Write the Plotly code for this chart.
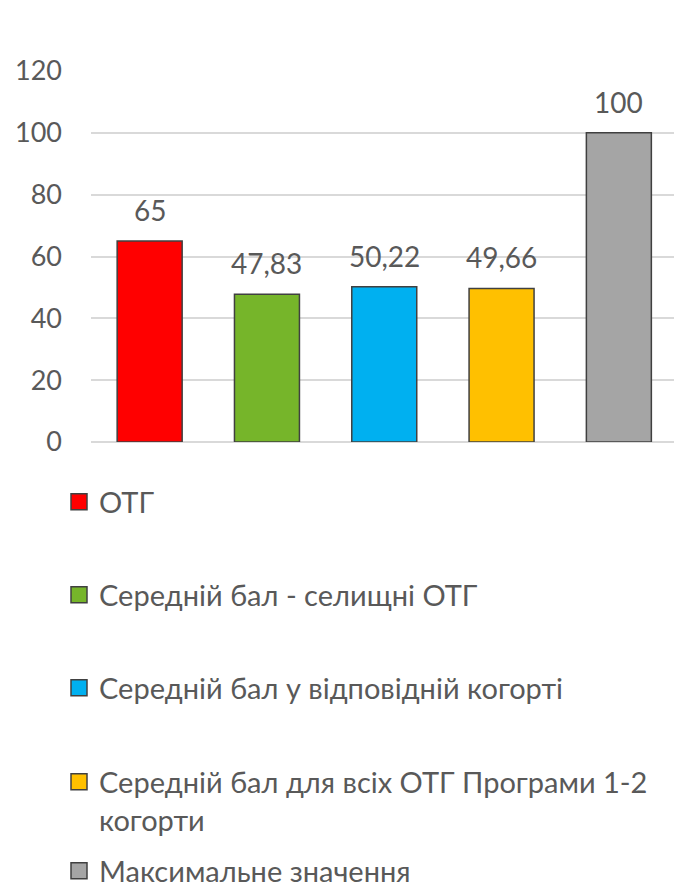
import plotly.graph_objects as go

categories = [
    "ОТГ",
    "Середній бал - селищні ОТГ",
    "Середній бал у відповідній когорті",
    "Середній бал для всіх ОТГ Програми 1-2 когорти",
    "Максимальне значення",
]
legend_labels = [
    "ОТГ",
    "Середній бал - селищні ОТГ",
    "Середній бал у відповідній когорті",
    "Середній бал для всіх ОТГ Програми 1-2<br>когорти",
    "Максимальне значення",
]
values = [65, 47.83, 50.22, 49.66, 100]
colors = ["#FF0000", "#76B52A", "#00B0F0", "#FFC000", "#A5A5A5"]
y_ticks = [0, 20, 40, 60, 80, 100, 120]

W, H = 674, 888
FONT = "Lato"
TEXT = "#595959"
EDGE = "#404040"

# legend vertical centres (pixels from top)
legend_centres = [502, 595, 688, 801, 871]

fig = go.Figure()
layout_legends = {}
for i, (cat, lab, v, c) in enumerate(zip(categories, legend_labels, values, colors)):
    key = "legend" if i == 0 else f"legend{i+1}"
    fig.add_trace(go.Bar(
        x=[cat], y=[v], name=lab, showlegend=False,
        marker=dict(color=c, line=dict(color=EDGE, width=1.5)),
    ))
    # legend-only entry with a larger square swatch
    fig.add_trace(go.Scatter(
        x=[None], y=[None], name=lab, mode="markers",
        marker=dict(symbol="square", size=16, color=c,
                    line=dict(color=EDGE, width=1.5)),
        legend=key, hoverinfo="skip",
    ))
    layout_legends[key] = dict(
        xref="container", yref="container",
        x=59 / W, y=(H - legend_centres[i]) / H,
        xanchor="left", yanchor="middle",
        valign="top",
        font=dict(family=FONT, size=29, color=TEXT),
        bgcolor="rgba(0,0,0,0)",
        itemsizing="trace",
    )
    label = f"{v:g}".replace(".", ",")
    fig.add_annotation(
        x=cat, y=v, text=label, showarrow=False,
        yanchor="bottom", yshift=12,
        font=dict(family=FONT, size=28, color=TEXT),
    )

fig.update_layout(
    width=W, height=H,
    margin=dict(l=91, r=0, t=71, b=H - 442, autoexpand=False),
    paper_bgcolor="white", plot_bgcolor="white",
    barmode="overlay", bargap=0.446,
    showlegend=True,
    **layout_legends,
)
fig.update_xaxes(
    categoryorder="array", categoryarray=categories,
    range=[-0.5, 4.47],
    showticklabels=False, showgrid=False, zeroline=False, showline=False,
)
fig.update_yaxes(
    range=[0, 120], tickvals=y_ticks,
    showgrid=True, gridcolor="#D9D9D9", gridwidth=1.5,
    zeroline=True, zerolinecolor="#D9D9D9", zerolinewidth=1.5,
    showline=False, ticklabelstandoff=28,
    tickfont=dict(family=FONT, size=27, color=TEXT),
)

fig.write_html(
    "out.html",
    config={"displayModeBar": False},
    post_script="document.body.style.margin='0px';",
)
